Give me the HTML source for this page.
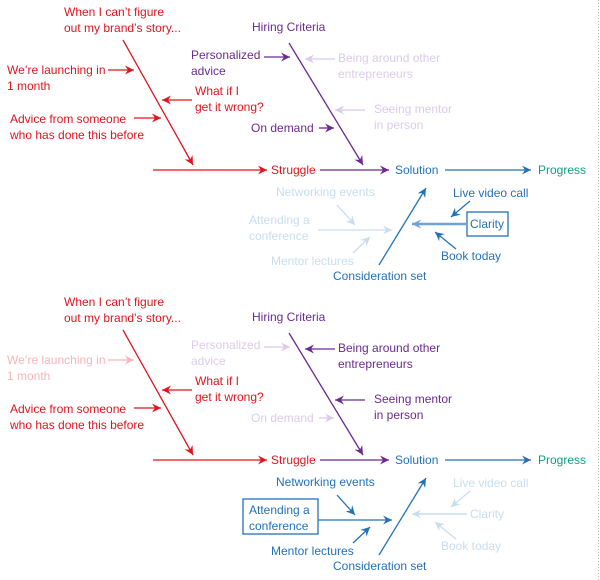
<!DOCTYPE html>
<html><head><meta charset="utf-8">
<style>
html,body{margin:0;padding:0;background:#fff;}
svg{display:block;font-family:"Liberation Sans",sans-serif;font-size:12px;}
</style></head>
<body>
<svg id="diagram" width="600" height="580" viewBox="0 0 600 580" xmlns="http://www.w3.org/2000/svg">
<line x1="598.5" y1="0" x2="598.5" y2="580" stroke="#bbb" stroke-width="1" stroke-dasharray="1,2"/>
</svg>
<script>
var NS='http://www.w3.org/2000/svg';
var svg=document.getElementById('diagram');
var C={red:'#e0141e',redF:'#f6b5b8',pur:'#6b2a90',purF:'#dccbe8',blue:'#2371b9',blueL:'#6fa3d6',blueF:'#c9ddf0',teal:'#129c84'};
function line(g,x1,y1,x2,y2,col,w,head){
  var l=document.createElementNS(NS,'line');
  l.setAttribute('x1',x1);l.setAttribute('y1',y1);l.setAttribute('x2',x2);l.setAttribute('y2',y2);
  l.setAttribute('stroke',col);l.setAttribute('stroke-width',w||1.3);
  
  
  g.appendChild(l);
  if(head!==false){
    var dx=x2-x1,dy=y2-y1,L=Math.sqrt(dx*dx+dy*dy),ux=dx/L,uy=dy/L,s=9,h=4.5;
    var bx=x2-ux*s,by=y2-uy*s;
    var p=document.createElementNS(NS,'polygon');
    p.setAttribute('points',x2+','+y2+' '+(bx-uy*h)+','+(by+ux*h)+' '+(bx+ux*3)+','+(by+uy*3)+' '+(bx+uy*h)+','+(by-ux*h));
    p.setAttribute('fill',col);
    
    
    g.appendChild(p);
  }
}
function text(g,x,y,lines,col,name){
  var t=document.createElementNS(NS,'text');
  t.setAttribute('x',x);t.setAttribute('y',y);t.setAttribute('fill',col);
  
  
  lines.forEach(function(s,i){var ts=document.createElementNS(NS,'tspan');ts.setAttribute('x',x);ts.setAttribute('dy',i?16:0);ts.textContent=s;t.appendChild(ts);});
  g.appendChild(t);
}
function box(g,x,y,w,h,col){
  var r=document.createElementNS(NS,'rect');
  r.setAttribute('x',x);r.setAttribute('y',y);r.setAttribute('width',w);r.setAttribute('height',h);
  r.setAttribute('fill','none');r.setAttribute('stroke',col);r.setAttribute('stroke-width',1.3);
  
  
  g.appendChild(r);
}
function panel(oy,top,name){
  var g=document.createElementNS(NS,'g');
  g.setAttribute('transform','translate(0,'+oy+')');
  
  
  svg.appendChild(g);
  text(g,64,16,['When I can\u2019t figure','out my brand\u2019s story...'],C.red,'struggle-trigger-label');
  line(g,123,40,193,165,C.red);
  var lc=top?C.red:C.redF;
  text(g,7,74,['We\u2019re launching in','1 month'],lc,'launching-label');
  line(g,108,70,134,70,lc);
  text(g,195,95,['What if I','get it wrong?'],C.red,'what-if-wrong-label');
  line(g,192,100,162,100,C.red);
  text(g,10,123,['Advice from someone','who has done this before'],C.red,'advice-label');
  line(g,134,118,161,118,C.red);
  line(g,153,170,267,170,C.red);
  text(g,271,174,['Struggle'],C.red,'struggle-label');
  text(g,252,31,['Hiring Criteria'],C.pur,'hiring-criteria-label');
  line(g,289,43,363,165,C.pur);
  var pA=top?C.pur:C.purF, pB=top?C.purF:C.pur;
  text(g,191,59,['Personalized','advice'],pA,'personalized-advice-label');
  line(g,264,57,290,57,pA);
  text(g,251,132,['On demand'],pA,'on-demand-label');
  line(g,319,128,334,128,pA);
  text(g,338,62,['Being around other','entrepreneurs'],pB,'being-around-label');
  line(g,335,59,305,59,pB);
  text(g,374,113,['Seeing mentor','in person'],pB,'seeing-mentor-label');
  line(g,365,110,335,110,pB);
  line(g,320,170,389,170,C.pur);
  text(g,395,174,['Solution'],C.blue,'solution-label');
  line(g,445,170,531,170,C.blue);
  text(g,538,174,['Progress'],C.teal,'progress-label');
  line(g,379,265,426,188,C.blue);
  text(g,333,280,['Consideration set'],C.blue,'consideration-set-label');
  var bR=top?C.blue:C.blueF, bL=top?C.blueF:C.blue;
  text(g,453,197,['Live video call'],bR,'live-video-call-label');
  line(g,470,201,451,217,bR);
  text(g,470,228,['Clarity'],bR,'clarity-label');
  if(top) box(g,467,212,41,24,C.blue);
  line(g,467,224,412,224,top?C.blueL:C.blueF,top?2.5:1.5);
  text(g,441,260,['Book today'],bR,'book-today-label');
  line(g,456,249,435,232,bR);
  text(g,276,196,['Networking events'],bL,'networking-events-label');
  line(g,337,205,355,225,bL);
  text(g,249,224,['Attending a','conference'],bL,'attending-conference-label');
  if(!top) box(g,243,209,75,35,C.blue);
  line(g,318,230,392,230,bL);
  text(g,271,265,['Mentor lectures'],bL,'mentor-lectures-label');
  line(g,353,253,370,237,bL);
}
panel(0,true,'top-panel');
panel(290,false,'bottom-panel');
</script>
</body></html>
